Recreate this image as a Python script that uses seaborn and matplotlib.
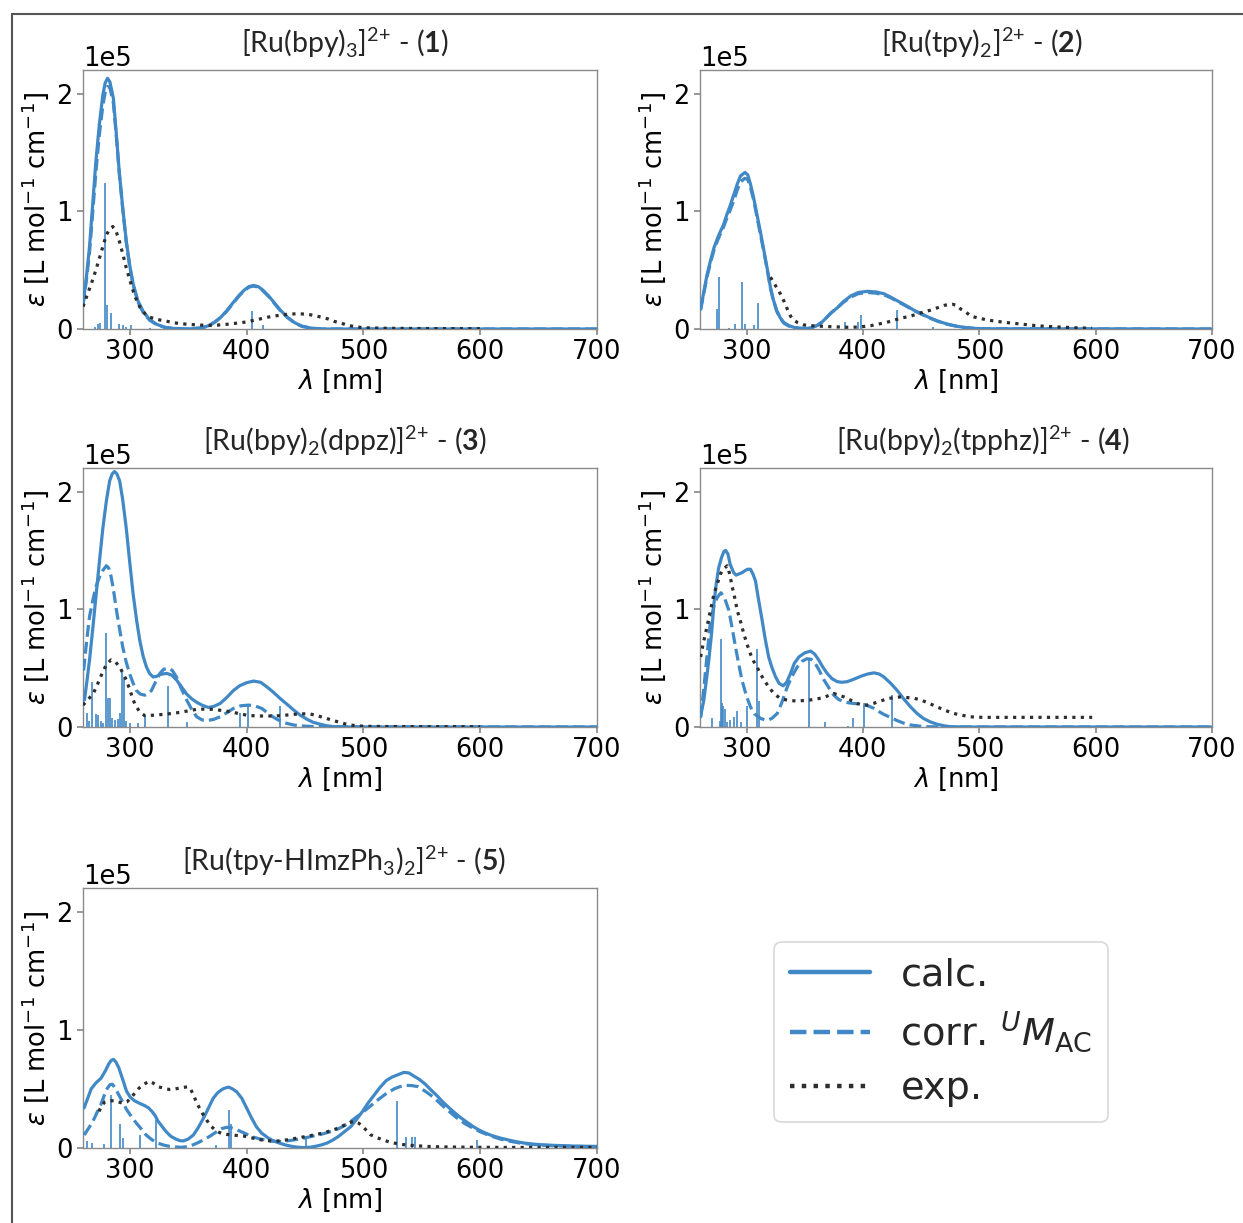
import numpy as np
import matplotlib
matplotlib.use("Agg")
import matplotlib.pyplot as plt
from matplotlib.lines import Line2D
import seaborn as sns

# ---------------------------------------------------------------------------
# Absorption spectra, epsilon in units of 1e5 L mol^-1 cm^-1, wavelength in nm
# ---------------------------------------------------------------------------

# (1) [Ru(bpy)3]2+
calc1_nm = [260, 263, 265.5, 268, 271, 274, 277, 279, 281, 283,
            286, 288.5, 291, 294, 297, 300, 303, 307, 311.5, 317,
            323, 330, 337, 350, 362, 368, 373, 378, 383, 389,
            394, 398, 402, 406, 410, 414, 419, 424, 429, 435,
            441, 447, 455, 465, 700]
calc1_eps = [0.21, 0.45, 0.69, 1.02, 1.42, 1.74, 1.99, 2.09, 2.13, 2.10,
             1.96, 1.66, 1.34, 1.03, 0.75, 0.54, 0.38, 0.24, 0.15, 0.08,
             0.04, 0.015, 0.005, 0.0, 0.01, 0.03, 0.06, 0.10, 0.155, 0.23,
             0.29, 0.33, 0.36, 0.37, 0.36, 0.33, 0.28, 0.22, 0.16, 0.10,
             0.055, 0.025, 0.008, 0.0, 0.0]
corr1_eps = [0.20, 0.42, 0.64, 0.95, 1.33, 1.65, 1.90, 2.01, 2.06, 2.05,
             1.92, 1.64, 1.33, 1.02, 0.74, 0.53, 0.37, 0.23, 0.14, 0.075,
             0.037, 0.014, 0.004, 0.0, 0.01, 0.03, 0.06, 0.10, 0.15, 0.225,
             0.285, 0.325, 0.355, 0.365, 0.355, 0.325, 0.275, 0.215, 0.155, 0.097,
             0.053, 0.024, 0.007, 0.0, 0.0]
exp1_nm = [260, 264, 268, 271, 274, 277, 280, 283, 285.5, 288,
           291, 294, 297, 300, 303, 306, 309, 313, 317, 324,
           332, 340, 349, 358, 366, 375, 383, 392, 400, 409,
           418, 427, 435, 444, 452, 458, 464, 470, 475, 481,
           487, 494, 501, 520, 550, 580, 600]
exp1_eps = [0.19, 0.30, 0.41, 0.50, 0.60, 0.70, 0.80, 0.85, 0.87, 0.84,
            0.75, 0.64, 0.52, 0.42, 0.32, 0.24, 0.18, 0.13, 0.10, 0.08,
            0.065, 0.05, 0.04, 0.035, 0.03, 0.033, 0.04, 0.05, 0.06, 0.08,
            0.10, 0.115, 0.125, 0.13, 0.125, 0.115, 0.10, 0.085, 0.065, 0.05,
            0.03, 0.018, 0.01, 0.006, 0.004, 0.003, 0.003]
stick1_nm = [270, 273, 274.7, 279, 280.7, 284, 291, 294, 297, 301, 317, 405, 414]
stick1_eps = [0.02, 0.04, 0.055, 1.24, 0.20, 0.135, 0.04, 0.03, 0.02, 0.035, 0.01, 0.15, 0.035]

# (2) [Ru(tpy)2]2+
calc2_nm = [260.5, 263, 266, 269, 272, 275, 277.6, 280, 283, 286,
            289, 292, 294.8, 298.6, 301, 303.4, 306, 309, 312, 315,
            318, 320.6, 323, 326, 329, 332, 336, 340.7, 346, 352,
            356, 360.7, 365, 369, 373, 378, 383, 389.4, 396, 403.7,
            411, 418, 424, 429.5, 437, 443.8, 451, 458, 465, 472.5,
            480, 486.8, 495, 505, 700]
calc2_eps = [0.17, 0.30, 0.46, 0.58, 0.69, 0.77, 0.83, 0.88, 0.97, 1.05,
             1.14, 1.23, 1.30, 1.33, 1.31, 1.23, 1.12, 0.97, 0.82, 0.66,
             0.50, 0.35, 0.25, 0.155, 0.095, 0.056, 0.03, 0.014, 0.006, 0.005,
             0.012, 0.03, 0.06, 0.10, 0.14, 0.18, 0.23, 0.28, 0.31, 0.32,
             0.315, 0.30, 0.27, 0.24, 0.20, 0.16, 0.125, 0.093, 0.065, 0.042,
             0.025, 0.014, 0.006, 0.002, 0.0]
corr2_eps = [0.16, 0.29, 0.44, 0.56, 0.67, 0.75, 0.81, 0.86, 0.94, 1.01,
             1.09, 1.18, 1.25, 1.28, 1.27, 1.20, 1.10, 0.95, 0.80, 0.65,
             0.49, 0.345, 0.245, 0.15, 0.09, 0.05, 0.026, 0.012, 0.005, 0.005,
             0.012, 0.03, 0.06, 0.10, 0.14, 0.18, 0.225, 0.27, 0.30, 0.31,
             0.305, 0.29, 0.265, 0.235, 0.195, 0.157, 0.122, 0.09, 0.063, 0.04,
             0.024, 0.013, 0.006, 0.002, 0.0]
exp2_nm = [320.6, 323, 326, 329, 332, 335, 337.8, 340, 343.6, 349,
           355, 363, 372, 380, 389, 398, 406.6, 415, 423.8, 432,
           441, 449, 458, 464, 469.6, 473, 477, 481, 484, 489,
           492.5, 500, 508, 517.5, 526, 534.6, 543, 551.7, 563, 574.7,
           586, 597]
exp2_eps = [0.44, 0.40, 0.35, 0.30, 0.24, 0.17, 0.11, 0.08, 0.056, 0.035,
            0.028, 0.024, 0.02, 0.017, 0.014, 0.018, 0.028, 0.045, 0.065, 0.09,
            0.11, 0.135, 0.16, 0.18, 0.20, 0.207, 0.21, 0.20, 0.17, 0.14,
            0.11, 0.091, 0.075, 0.062, 0.052, 0.043, 0.034, 0.026, 0.019, 0.014,
            0.009, 0.006]
stick2_nm = [274.8, 276.5, 284.8, 290.5, 296.3, 298.6, 306.3, 309.7, 384.5, 395.7, 398, 429, 460.5]
stick2_eps = [0.17, 0.44, 0.01, 0.04, 0.40, 0.04, 0.035, 0.225, 0.056, 0.056, 0.12, 0.16, 0.014]

# (3) [Ru(bpy)2(dppz)]2+
calc3_nm = [261.3, 263.5, 265.6, 268.5, 271.3, 274, 277, 280, 282.8, 285,
            287, 289, 291.4, 294, 297, 300, 302.9, 306, 308.6, 311.5,
            314.3, 317, 320, 323, 325.8, 329, 332, 336, 340, 344,
            348.7, 353, 357.3, 362, 367.3, 372, 377.4, 383, 388.8, 394,
            400.3, 406, 412, 417.5, 423, 429, 435, 440.4, 446, 451.9,
            457, 463.3, 469, 474.8, 490, 700]
calc3_eps = [0.23, 0.40, 0.57, 0.85, 1.13, 1.40, 1.69, 1.92, 2.09, 2.15,
             2.17, 2.15, 2.09, 1.93, 1.69, 1.40, 1.13, 0.90, 0.735, 0.60,
             0.51, 0.455, 0.425, 0.43, 0.445, 0.452, 0.455, 0.44, 0.40, 0.345,
             0.28, 0.24, 0.21, 0.185, 0.166, 0.175, 0.20, 0.25, 0.31, 0.35,
             0.377, 0.39, 0.38, 0.34, 0.295, 0.24, 0.19, 0.144, 0.10, 0.065,
             0.04, 0.023, 0.01, 0.003, 0.0, 0.0]
corr3_nm = [260.5, 263, 265.6, 268.5, 271, 274, 277, 280, 282, 284,
            286, 288.5, 291, 294, 297, 300, 303, 305.7, 309, 313,
            316, 318.6, 322, 325.8, 329, 333, 336.5, 340, 344, 348.7,
            353, 357.3, 362, 366, 372, 377.4, 383, 388.8, 395, 401.7,
            407, 413, 418, 423.2, 429, 434.7, 441, 449, 460, 700]
corr3_eps = [0.48, 0.72, 0.94, 1.08, 1.19, 1.27, 1.33, 1.37, 1.35, 1.28,
             1.17, 1.00, 0.85, 0.68, 0.55, 0.45, 0.37, 0.31, 0.28, 0.27,
             0.285, 0.31, 0.38, 0.455, 0.49, 0.50, 0.48, 0.425, 0.33, 0.23,
             0.15, 0.087, 0.06, 0.054, 0.065, 0.087, 0.12, 0.158, 0.18, 0.186,
             0.18, 0.158, 0.12, 0.082, 0.05, 0.03, 0.016, 0.008, 0.002, 0.0]
exp3_nm = [260, 264, 268.5, 271, 274, 277, 280, 284, 288, 291.4,
           294, 297, 300, 302.9, 305.7, 308.6, 311, 313, 320, 328.7,
           336, 343, 350, 357.3, 364, 371.6, 379, 386, 393, 400.3,
           407, 414.6, 422, 429, 436, 443.3, 449, 454.7, 460, 466,
           472, 477.7, 483, 489, 495, 500.6, 520, 550, 580, 600]
exp3_eps = [0.186, 0.23, 0.28, 0.33, 0.40, 0.47, 0.53, 0.57, 0.55, 0.51,
            0.46, 0.40, 0.32, 0.23, 0.17, 0.13, 0.11, 0.096, 0.10, 0.107,
            0.115, 0.124, 0.137, 0.15, 0.152, 0.15, 0.14, 0.13, 0.115, 0.10,
            0.095, 0.093, 0.094, 0.096, 0.103, 0.11, 0.112, 0.11, 0.097, 0.08,
            0.062, 0.045, 0.03, 0.017, 0.01, 0.006, 0.004, 0.003, 0.003, 0.003]
stick3_nm = [263.3, 265, 267.5, 270.8, 272.8, 275, 277, 279.6, 281.4, 283.4,
             285, 287, 290, 291.5, 293.4, 295, 297, 300, 307, 313,
             333, 349.3, 394.5, 401, 429]
stick3_eps = [0.115, 0.05, 0.38, 0.11, 0.10, 0.05, 0.03, 0.80, 0.25, 0.25,
              0.08, 0.06, 0.07, 0.12, 0.47, 0.42, 0.05, 0.03, 0.03, 0.10,
              0.35, 0.045, 0.115, 0.186, 0.18]

# (4) [Ru(bpy)2(tpphz)]2+
calc4_nm = [260.5, 263.3, 265.5, 267.6, 270, 272, 274, 276, 278.5, 280.5,
            282, 284, 286, 289, 291, 293.4, 296, 299, 301, 303.4,
            305.5, 307.7, 310, 313.5, 316, 319, 322, 325, 328, 331.5,
            334.5, 337.8, 341, 345, 350, 355, 358.5, 362, 365.5, 369.3,
            373.5, 378, 382, 386.5, 392, 398, 404, 409.5, 414, 418,
            424, 429.5, 435, 441, 446.5, 452, 458, 463.9, 470, 475,
            490, 700]
calc4_eps = [0.09, 0.23, 0.40, 0.57, 0.80, 1.05, 1.22, 1.35, 1.44, 1.49,
             1.50, 1.47, 1.38, 1.31, 1.29, 1.30, 1.31, 1.33, 1.34, 1.34,
             1.30, 1.24, 1.10, 0.90, 0.75, 0.595, 0.50, 0.425, 0.37, 0.35,
             0.38, 0.455, 0.54, 0.595, 0.63, 0.645, 0.62, 0.57, 0.51, 0.455,
             0.41, 0.385, 0.38, 0.385, 0.405, 0.43, 0.45, 0.46, 0.45, 0.425,
             0.37, 0.31, 0.24, 0.17, 0.115, 0.073, 0.043, 0.023, 0.01, 0.003,
             0.0, 0.0]
corr4_nm = [260.5, 263, 266, 269, 272, 274.8, 278, 281, 284.8, 288,
            290.5, 293, 296, 300, 303.4, 307, 312, 316, 319, 322,
            326.4, 330, 335, 339, 343.6, 348, 352, 355.5, 359, 362.5,
            366.5, 371, 375, 379, 383.7, 388, 392, 396, 401, 405,
            409.5, 414, 418, 424, 429.5, 435, 441, 452.4, 470, 700]
corr4_eps = [0.08, 0.30, 0.60, 0.90, 1.03, 1.10, 1.14, 1.10, 0.99, 0.82,
             0.68, 0.55, 0.40, 0.26, 0.17, 0.11, 0.073, 0.06, 0.06, 0.075,
             0.115, 0.20, 0.34, 0.43, 0.51, 0.56, 0.58, 0.575, 0.54, 0.48,
             0.40, 0.33, 0.27, 0.235, 0.215, 0.205, 0.20, 0.197, 0.19, 0.178,
             0.158, 0.13, 0.107, 0.08, 0.054, 0.033, 0.017, 0.003, 0.0, 0.0]
exp4_nm = [260.5, 263, 266, 269, 272, 275, 277.6, 280, 283.4, 285.5,
           287.7, 290, 292, 295, 297.7, 300.5, 303.4, 306, 309, 312,
           315, 319, 323.5, 328, 332, 338, 343.6, 349, 355, 361,
           366.5, 371, 375, 379, 383.7, 389, 395, 399, 403.7, 409,
           415, 421, 426.6, 432, 438, 443.5, 449.6, 456, 463.9, 471,
           478, 485, 492.5, 498, 504, 515.5, 530, 550, 570, 597]
exp4_eps = [0.595, 0.72, 0.85, 0.99, 1.13, 1.22, 1.30, 1.34, 1.37, 1.30,
            1.19, 1.09, 0.99, 0.89, 0.79, 0.70, 0.62, 0.56, 0.51, 0.45,
            0.40, 0.34, 0.285, 0.25, 0.234, 0.225, 0.22, 0.225, 0.23, 0.24,
            0.25, 0.27, 0.285, 0.27, 0.256, 0.23, 0.20, 0.19, 0.186, 0.20,
            0.22, 0.24, 0.25, 0.255, 0.25, 0.245, 0.23, 0.205, 0.17, 0.14,
            0.115, 0.10, 0.087, 0.083, 0.082, 0.082, 0.082, 0.082, 0.082, 0.082]
stick4_nm = [270.5, 277, 278, 279, 280, 281.5, 283.4, 286, 289, 291.4,
             295, 300.6, 308.6, 310.6, 353.6, 367.3, 387, 391.7, 400.9, 424.6]
stick4_eps = [0.073, 0.05, 0.75, 0.20, 0.18, 0.15, 0.045, 0.06, 0.087, 0.14,
              0.04, 0.18, 0.66, 0.22, 0.59, 0.04, 0.01, 0.073, 0.18, 0.27]

# (5) [Ru(tpy-HImzPh3)2]2+
calc5_nm = [261, 264, 267, 271, 275.4, 279, 282, 284, 286, 288,
            290.6, 294, 297.3, 300.5, 304, 308, 312.5, 316, 319, 322,
            324, 327.5, 331, 335, 339.4, 343, 346, 350, 354.5, 358.5,
            363, 367, 371.4, 375.5, 379.8, 382.5, 384.8, 388, 391.6, 396,
            400, 404, 408.4, 413, 418.5, 423, 428.6, 433.5, 438.7, 443.5,
            448.8, 454, 458.9, 464, 469, 474, 479, 484, 489.2, 494,
            499.3, 504, 509.4, 514, 519.5, 524.5, 529.6, 534.7, 539, 543,
            548, 553, 558, 563.3, 568, 573.4, 578.5, 583.5, 588.5, 593.6,
            598.5, 603.7, 610, 617, 624, 630.6, 637, 644, 652, 661,
            670, 678, 688, 698, 700]
calc5_eps = [0.34, 0.42, 0.50, 0.55, 0.59, 0.65, 0.71, 0.74, 0.75, 0.73,
             0.68, 0.58, 0.48, 0.43, 0.40, 0.38, 0.36, 0.34, 0.31, 0.27,
             0.23, 0.185, 0.14, 0.10, 0.076, 0.062, 0.06, 0.075, 0.11, 0.17,
             0.25, 0.33, 0.42, 0.47, 0.50, 0.51, 0.515, 0.50, 0.475, 0.42,
             0.34, 0.26, 0.18, 0.125, 0.085, 0.06, 0.04, 0.025, 0.014, 0.007,
             0.003, 0.006, 0.014, 0.026, 0.042, 0.068, 0.10, 0.14, 0.18, 0.24,
             0.31, 0.38, 0.45, 0.51, 0.57, 0.60, 0.62, 0.64, 0.635, 0.61,
             0.58, 0.54, 0.49, 0.44, 0.39, 0.34, 0.295, 0.255, 0.22, 0.184,
             0.155, 0.13, 0.105, 0.085, 0.068, 0.054, 0.043, 0.034, 0.028, 0.023,
             0.02, 0.017, 0.015, 0.014, 0.014]
corr5_nm = [261, 265, 268.7, 272, 275.4, 278, 280.5, 283, 285, 287.5,
            290.6, 294, 297.3, 301.5, 305.7, 310, 314, 319, 324, 329,
            334, 339, 344.4, 349.5, 354.5, 359.5, 364.6, 369.5, 374.7, 379,
            383, 387, 391.6, 396.5, 401.7, 406.5, 411.8, 417, 421.9, 427,
            432, 438.5, 445.5, 452, 458.9, 465.5, 472.4, 479, 485.9, 492.5,
            499.3, 506, 512.8, 519.5, 526.3, 531.5, 536.4, 541.5, 546.5, 553,
            560, 566.5, 573.4, 580, 586.9, 593.5, 600.3, 608.5, 617, 625.5,
            634, 644, 654, 666, 678, 690, 700]
corr5_eps = [0.11, 0.17, 0.23, 0.30, 0.37, 0.44, 0.50, 0.535, 0.54, 0.51,
             0.45, 0.39, 0.325, 0.265, 0.21, 0.16, 0.11, 0.07, 0.042, 0.025,
             0.014, 0.009, 0.006, 0.012, 0.028, 0.05, 0.076, 0.105, 0.14, 0.165,
             0.175, 0.17, 0.155, 0.133, 0.11, 0.09, 0.076, 0.065, 0.057, 0.055,
             0.057, 0.065, 0.076, 0.09, 0.105, 0.12, 0.14, 0.165, 0.20, 0.25,
             0.30, 0.355, 0.41, 0.46, 0.50, 0.52, 0.53, 0.528, 0.52, 0.48,
             0.43, 0.37, 0.31, 0.255, 0.206, 0.17, 0.136, 0.104, 0.076, 0.057,
             0.042, 0.031, 0.023, 0.018, 0.014, 0.012, 0.011]
exp5_nm = [273.7, 276, 278.8, 282, 285, 287.2, 290, 294, 297.5, 300.7,
           304, 307.4, 310.5, 314, 316.8, 320, 324, 329, 334, 339,
           344.4, 349.5, 352, 354.5, 357, 359.6, 363, 366.3, 370, 374.7,
           379.5, 384.8, 391, 398.3, 405, 411.8, 418.5, 425.3, 432, 438.7,
           445.5, 452.2, 459, 465.7, 472.4, 479, 484, 489.2, 492.6, 496,
           499.3, 502.5, 506, 511, 516.2, 521, 526.3, 533, 539.7, 550,
           560, 577, 593.6, 620, 650, 680, 700]
exp5_eps = [0.31, 0.36, 0.39, 0.40, 0.40, 0.40, 0.39, 0.38, 0.39, 0.42,
            0.46, 0.50, 0.53, 0.55, 0.566, 0.55, 0.52, 0.505, 0.495, 0.50,
            0.51, 0.518, 0.50, 0.45, 0.39, 0.34, 0.28, 0.23, 0.18, 0.14,
            0.12, 0.113, 0.107, 0.10, 0.085, 0.07, 0.062, 0.057, 0.065, 0.076,
            0.088, 0.10, 0.113, 0.127, 0.147, 0.17, 0.195, 0.218, 0.226, 0.21,
            0.184, 0.15, 0.113, 0.09, 0.07, 0.055, 0.042, 0.03, 0.023, 0.016,
            0.011, 0.008, 0.006, 0.005, 0.005, 0.005, 0.005]
stick5_nm = [263.6, 267.7, 277.8, 283.8, 292, 294, 309, 322.6, 374, 384.8,
             386.5, 450.5, 529, 536.4, 541.4, 543.8, 597.6]
stick5_eps = [0.06, 0.04, 0.03, 0.45, 0.20, 0.085, 0.11, 0.24, 0.023, 0.32,
              0.20, 0.10, 0.40, 0.09, 0.09, 0.09, 0.07]

titles = [
    r"[Ru(bpy)$_\mathregular{3}$]$^\mathregular{2{+}}$ - ($\mathbf{1}$)",
    r"[Ru(tpy)$_\mathregular{2}$]$^\mathregular{2{+}}$ - ($\mathbf{2}$)",
    r"[Ru(bpy)$_\mathregular{2}$(dppz)]$^\mathregular{2{+}}$ - ($\mathbf{3}$)",
    r"[Ru(bpy)$_\mathregular{2}$(tpphz)]$^\mathregular{2{+}}$ - ($\mathbf{4}$)",
    r"[Ru(tpy-HImzPh$_\mathregular{3}$)$_\mathregular{2}$]$^\mathregular{2{+}}$ - ($\mathbf{5}$)",
]
legend_labels = ["calc.", r"corr. ${}^{U}M_{\mathrm{AC}}$", "exp."]

EPS_UNIT = 1e5

panels = [
    dict(calc=(calc1_nm, calc1_eps), corr=(calc1_nm, corr1_eps), exp=(exp1_nm, exp1_eps),
         sticks=(stick1_nm, stick1_eps)),
    dict(calc=(calc2_nm, calc2_eps), corr=(calc2_nm, corr2_eps), exp=(exp2_nm, exp2_eps),
         sticks=(stick2_nm, stick2_eps)),
    dict(calc=(calc3_nm, calc3_eps), corr=(corr3_nm, corr3_eps), exp=(exp3_nm, exp3_eps),
         sticks=(stick3_nm, stick3_eps)),
    dict(calc=(calc4_nm, calc4_eps), corr=(corr4_nm, corr4_eps), exp=(exp4_nm, exp4_eps),
         sticks=(stick4_nm, stick4_eps)),
    dict(calc=(calc5_nm, calc5_eps), corr=(corr5_nm, corr5_eps), exp=(exp5_nm, exp5_eps),
         sticks=(stick5_nm, stick5_eps)),
]

# ---------------------------------------------------------------------------
# Styling
# ---------------------------------------------------------------------------
sns.set_theme(style="ticks")
plt.rcParams.update({
    "font.family": ["DejaVu Sans"],
    "mathtext.fontset": "custom",
    "mathtext.rm": "DejaVu Sans",
    "mathtext.it": "DejaVu Sans:italic",
    "mathtext.bf": "Lato:bold",
    "mathtext.sf": "DejaVu Sans",
    "axes.edgecolor": "#8a8a8a",
    "axes.linewidth": 1.0,
    "xtick.color": "#8a8a8a",
    "ytick.color": "#8a8a8a",
    "xtick.labelcolor": "black",
    "ytick.labelcolor": "black",
    "xtick.major.size": 4,
    "ytick.major.size": 4,
    "axes.labelcolor": "black",
})

BLUE = "#4189c6"
DARK = "#2e2e2e"
FS = 18.5
W, H = 1243, 1223

fig = plt.figure(figsize=(W / 100, H / 100), dpi=100)
fig.patch.set_facecolor("white")

# panel rectangles in pixel units: left, top, right, bottom
boxes_px = [(83, 70, 597, 329), (700, 70, 1212, 329),
            (83, 468, 597, 727), (700, 468, 1212, 727),
            (83, 888, 597, 1148)]
title_x = [0.51, 0.55, 0.51, 0.552, 0.508]

for i, (spec, (l, t, r, b)) in enumerate(zip(panels, boxes_px)):
    ax = fig.add_axes([l / W, 1 - b / H, (r - l) / W, (b - t) / H])
    s_nm, s_eps = spec["sticks"]
    ax.vlines(s_nm, 0, np.asarray(s_eps) * EPS_UNIT, color=BLUE, lw=1.2, zorder=2)
    nm, eps = spec["calc"]
    sns.lineplot(x=nm, y=np.asarray(eps) * EPS_UNIT, ax=ax, color=BLUE, lw=2.3,
                 sort=False, estimator=None, zorder=3)
    nm, eps = spec["corr"]
    sns.lineplot(x=nm, y=np.asarray(eps) * EPS_UNIT, ax=ax, color=BLUE, lw=2.3,
                 linestyle="--", sort=False, estimator=None, zorder=3)
    nm, eps = spec["exp"]
    sns.lineplot(x=nm, y=np.asarray(eps) * EPS_UNIT, ax=ax, color=DARK, lw=2.3,
                 linestyle=":", sort=False, estimator=None, zorder=3)

    ax.set_xlim(260, 700)
    ax.set_ylim(0, 2.2 * EPS_UNIT)
    ax.set_xticks([300, 400, 500, 600, 700])
    ax.set_yticks([0, EPS_UNIT, 2 * EPS_UNIT])
    ax.ticklabel_format(axis="y", style="sci", scilimits=(0, 0))
    ax.tick_params(labelsize=FS)
    ax.yaxis.get_offset_text().set_fontsize(FS)
    ax.set_xlabel(r"$\lambda$ [nm]", fontsize=FS, labelpad=2)
    ax.set_ylabel(r"$\varepsilon$ [L mol$^{-1}$ cm$^{-1}$]", fontsize=FS, labelpad=4)
    ax.set_title(titles[i], fontsize=20.5, family="Lato", x=title_x[i], pad=12)

# figure legend
handles = [Line2D([], [], color=BLUE, lw=3.2, ls="-"),
           Line2D([], [], color=BLUE, lw=3.2, ls="--"),
           Line2D([], [], color=DARK, lw=3.2, ls=":")]
leg = fig.legend(handles, legend_labels, loc="center", bbox_to_anchor=(0.757, 0.156),
                 fontsize=27.5, handlelength=2.1, handletextpad=0.8, labelspacing=0.42,
                 borderpad=0.4, frameon=True, fancybox=True)
leg.get_frame().set_edgecolor("#d0d0d0")
leg.get_frame().set_linewidth(1.2)

# outer frame along the left and top edges
x0, y0 = 12 / W, 1 - 14 / H
fig.add_artist(Line2D([x0, x0], [0, y0], transform=fig.transFigure, color="#555555", lw=1.5))
fig.add_artist(Line2D([x0, 1], [y0, y0], transform=fig.transFigure, color="#555555", lw=1.5))

fig.savefig("out.png", dpi=100)
